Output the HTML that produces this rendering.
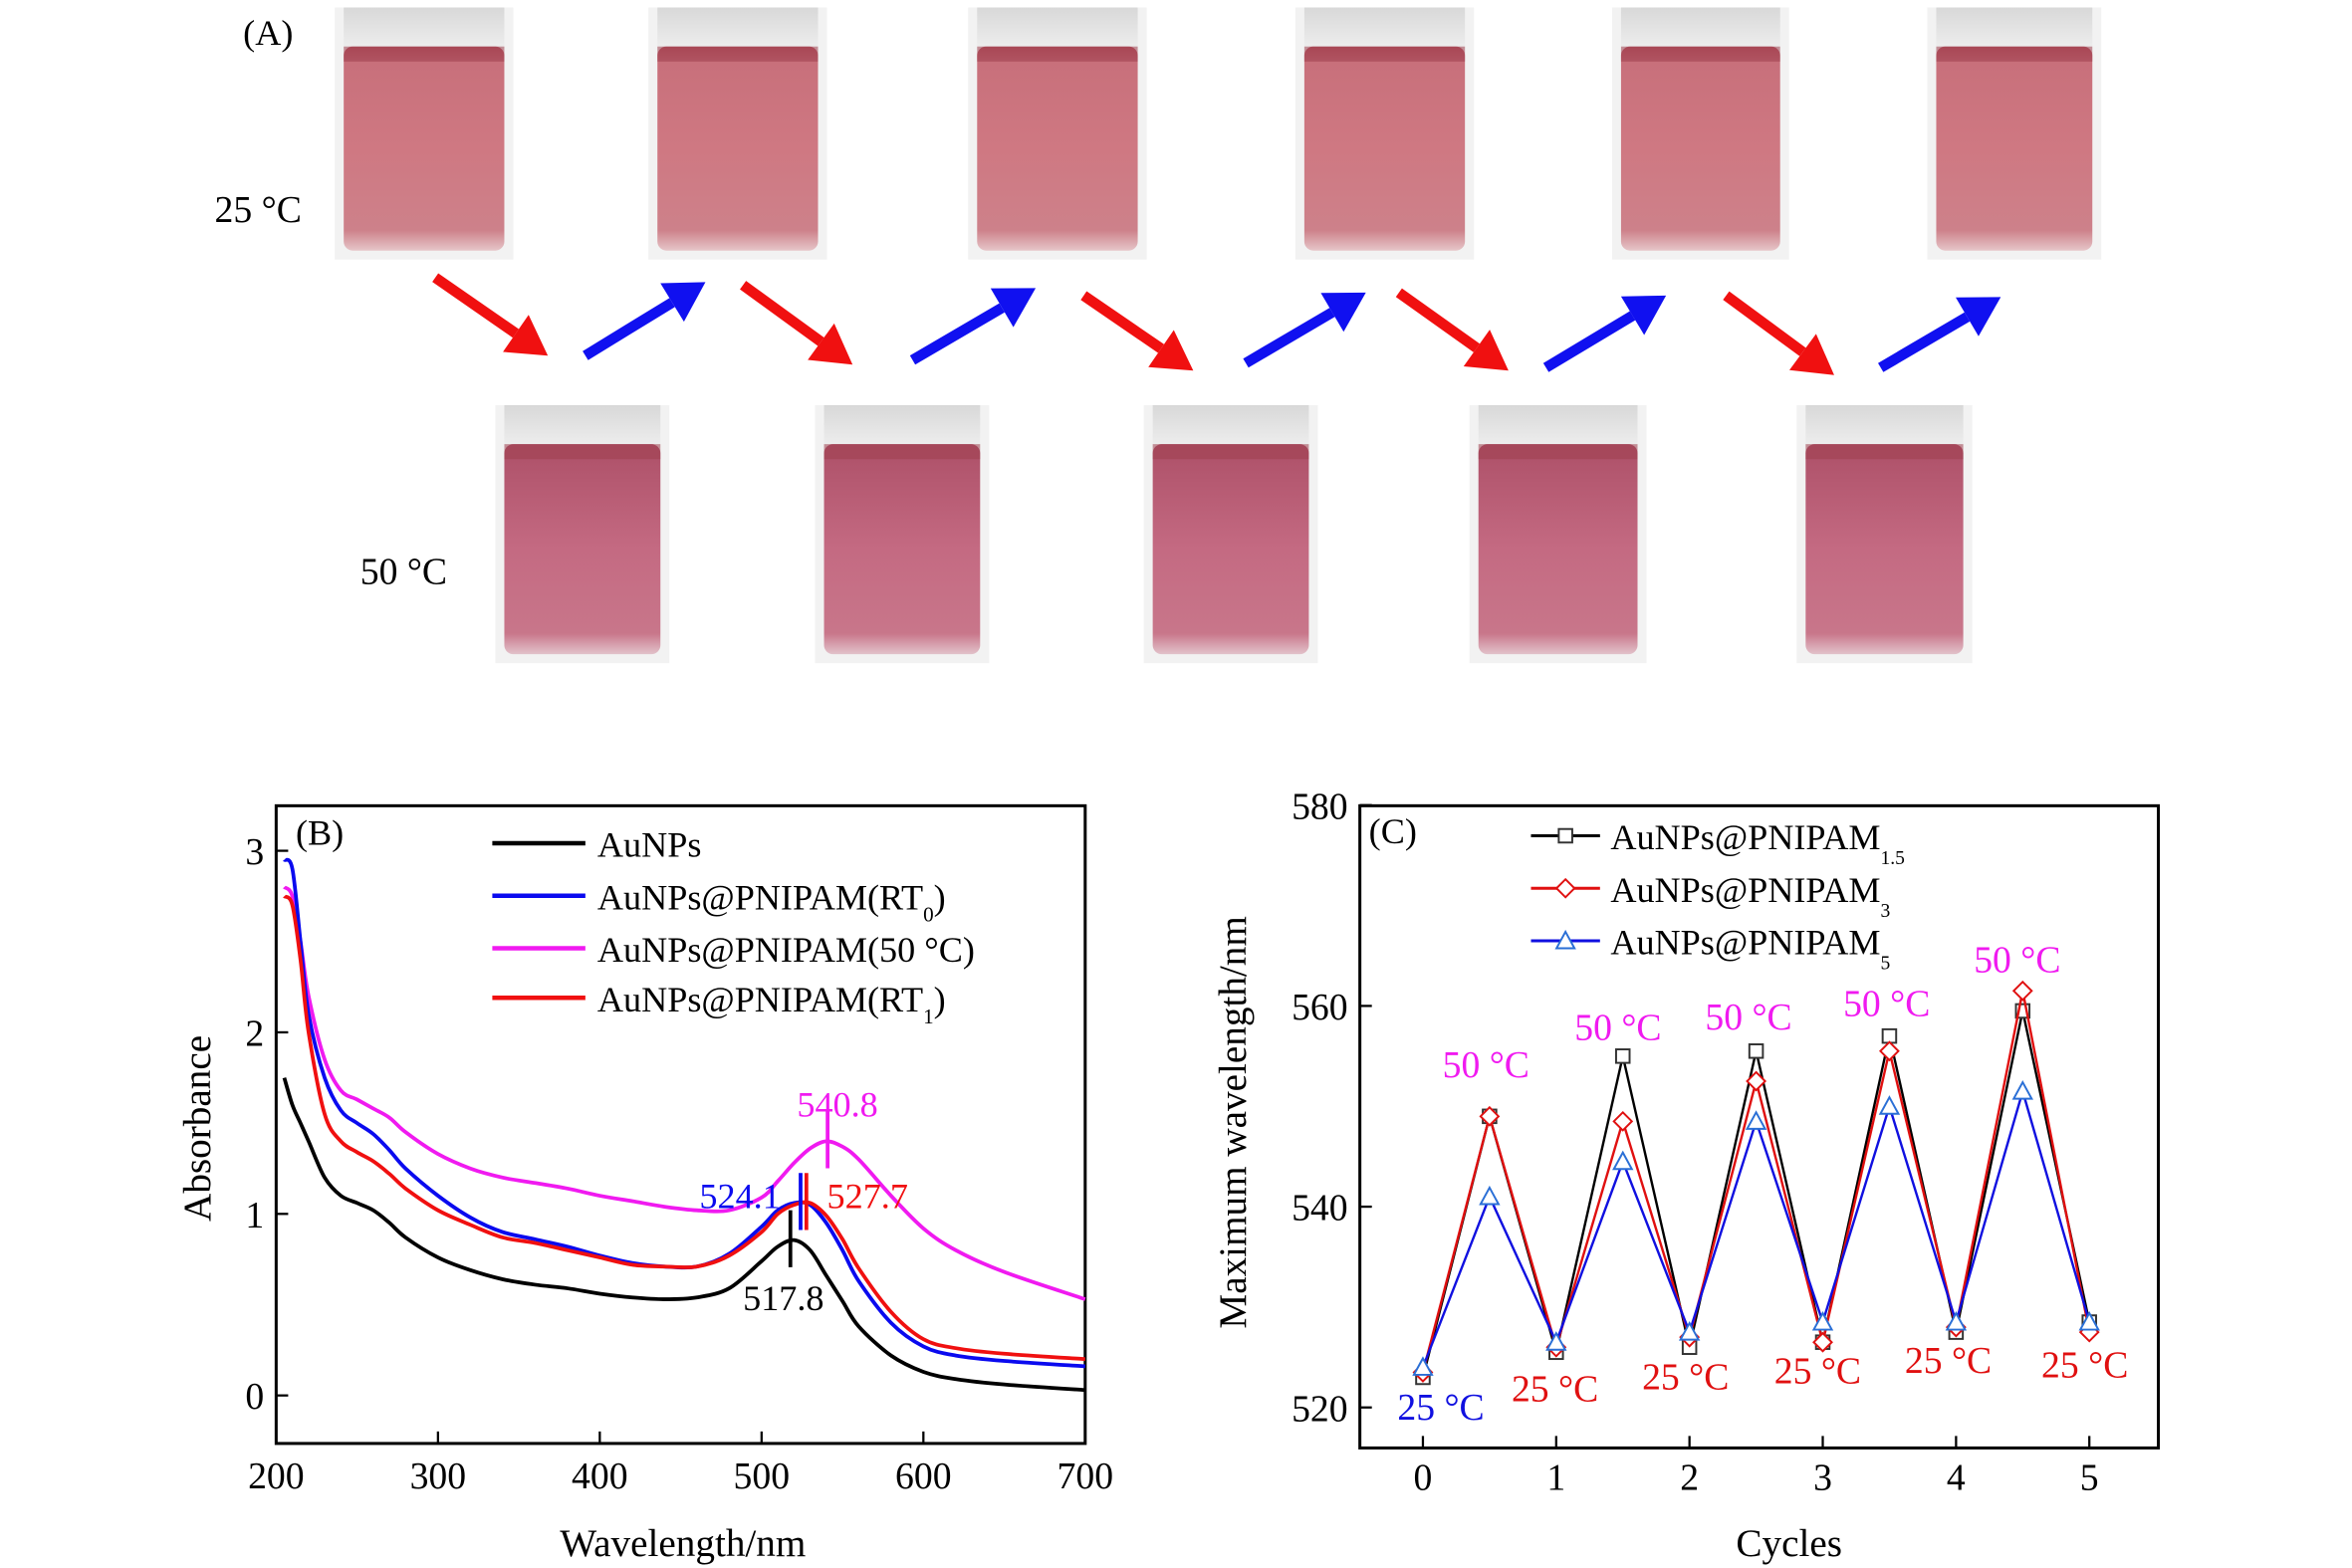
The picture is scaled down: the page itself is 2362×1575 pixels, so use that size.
<!DOCTYPE html>
<html><head><meta charset="utf-8"><style>
html,body{margin:0;padding:0;background:#fff}
svg{display:block}
text{font-family:"Liberation Serif",serif}
</style></head><body>
<svg id="fig" width="2362" height="1575" viewBox="0 0 1567 1045" preserveAspectRatio="none" xmlns="http://www.w3.org/2000/svg">
<defs>
<linearGradient id="liq" x1="0" y1="0" x2="0" y2="1">
<stop offset="0" stop-color="#b5505e"/><stop offset="0.08" stop-color="#c8707b"/><stop offset="0.5" stop-color="#cf7882"/><stop offset="0.9" stop-color="#cd818a"/><stop offset="1" stop-color="#e6c6c9"/>
</linearGradient>
<linearGradient id="liq2" x1="0" y1="0" x2="0" y2="1">
<stop offset="0" stop-color="#ad5068"/><stop offset="0.5" stop-color="#c46a82"/><stop offset="0.9" stop-color="#c8768a"/><stop offset="1" stop-color="#e2c2ca"/>
</linearGradient>
<linearGradient id="glass" x1="0" y1="0" x2="0" y2="1">
<stop offset="0" stop-color="#d8d8d8"/><stop offset="1" stop-color="#eeeeee"/>
</linearGradient>
</defs>
<g id="panelA">
<text x="162" y="30" font-size="24">(A)</text>
<text x="143" y="148" font-size="25">25 °C</text>
<text x="240" y="389" font-size="25">50 °C</text>
</g>
<g id="panelB"></g>
<g id="panelC"></g>
</svg>
<script>
// ---------- Panel B data ----------
const wavelengths=[205,210,215,220,230,240,250,260,270,280,300,320,340,360,380,400,420,440,460,480,500,510,520,530,540,550,560,580,600,620,650,700];
const absAuNPs=[1.75,1.6,1.5,1.4,1.2,1.1,1.06,1.02,0.95,0.87,0.76,0.69,0.64,0.61,0.59,0.56,0.54,0.53,0.54,0.59,0.74,0.82,0.855,0.8,0.66,0.52,0.38,0.22,0.13,0.09,0.06,0.03];
const absRT0=[2.95,2.9,2.5,2.1,1.75,1.57,1.5,1.44,1.35,1.25,1.1,0.98,0.9,0.86,0.82,0.77,0.73,0.71,0.71,0.78,0.93,1.02,1.06,1.05,0.95,0.8,0.63,0.4,0.27,0.22,0.19,0.16];
const abs50C=[2.8,2.75,2.5,2.2,1.85,1.68,1.63,1.58,1.53,1.45,1.33,1.25,1.2,1.17,1.14,1.1,1.07,1.04,1.02,1.02,1.09,1.18,1.28,1.36,1.4,1.37,1.3,1.1,0.92,0.8,0.68,0.53];
const absRT1=[2.75,2.7,2.4,2.0,1.55,1.4,1.34,1.29,1.22,1.14,1.02,0.94,0.87,0.84,0.8,0.76,0.72,0.71,0.71,0.77,0.9,1.0,1.05,1.06,0.99,0.86,0.7,0.46,0.31,0.26,0.23,0.2];
const bXTicks=[200,300,400,500,600,700];
const bYTicks=[0,1,2,3];
const peakLabels=["517.8","524.1","540.8","527.7"];
const peakPos=[517.8,524.1,540.8,527.7];
const peakAbs=[0.855,1.06,1.4,1.06];
// ---------- Panel C data ----------
const cycles=[0,0.5,1,1.5,2,2.5,3,3.5,4,4.5,5];
const lam15=[523,549,525.5,555,526,555.5,526.5,557,527.5,559.5,528.5];
const lam3=[523.5,549,526,548.5,527,552.5,526.5,555.5,528,561.5,527.5];
const lam5=[524,541,526.5,544.5,527.5,548.5,528.5,550,528.5,551.5,528.5];
const cXTicks=[0,1,2,3,4,5];
const cYTicks=[520,540,560,580];

const NS="http://www.w3.org/2000/svg";
function mk(parent,tag,attrs,txt){const e=document.createElementNS(NS,tag);for(const k in attrs)e.setAttribute(k,attrs[k]);if(txt!==undefined)e.textContent=txt;parent.appendChild(e);return e;}

// ---------- Panel A vials ----------
const A=document.getElementById('panelA');
const topVials=[[223,342],[432,551],[645,764],[863,982],[1074,1192],[1284,1400]];
const botVials=[[330,446],[543,659],[762,878],[979,1097],[1197,1314]];
function vial(x0,x1,y0,y1,grad,i,row){
  const g=mk(A,'g',{});
  
  
  mk(g,'rect',{x:x0,y:y0,width:x1-x0,height:y1-y0,fill:'#f2f2f2'});
  mk(g,'rect',{x:x0+6,y:y0,width:x1-x0-12,height:28,fill:'url(#glass)'});
  mk(g,'rect',{x:x0+6,y:y0+26,width:x1-x0-12,height:y1-y0-32,rx:6,fill:'url('+grad+')'});
  mk(g,'rect',{x:x0+6,y:y0+26,width:x1-x0-12,height:10,fill:'#9e3f4f',opacity:0.55});
}
topVials.forEach((v,i)=>vial(v[0],v[1],5,173,'#liq',i,'top'));
botVials.forEach((v,i)=>vial(v[0],v[1],270,442,'#liq2',i,'bottom'));
const arrows=[[290,185,365,237,'red'],[390,237,470,188,'blue'],[495,190,568,243,'red'],[608,240,690,192,'blue'],[722,197,795,247,'red'],[830,242,910,195,'blue'],[932,195,1005,247,'red'],[1030,245,1110,197,'blue'],[1150,197,1222,250,'red'],[1253,245,1333,198,'blue']];
arrows.forEach((a,i)=>{
  const col=a[4]=='red'?'#f01010':'#1010f0';
  const g=mk(A,'g',{});
  
  
  const dx=a[2]-a[0],dy=a[3]-a[1],L=Math.hypot(dx,dy),ux=dx/L,uy=dy/L;
  const bx=a[2]-ux*26,by=a[3]-uy*26;
  mk(g,'line',{x1:a[0],y1:a[1],x2:bx,y2:by,stroke:col,'stroke-width':7});
  mk(g,'polygon',{points:`${a[2]},${a[3]} ${bx-uy*15},${by+ux*15} ${bx+uy*15},${by-ux*15}`,fill:col});
});

// ---------- Panel B ----------
const B=document.getElementById('panelB');
const bx0=184,bx1=723,by0=537,by1=962;
const xB=w=>184+(w-200)*1.078;
const yB=a=>930-a*121;
mk(B,'rect',{x:bx0,y:by0,width:bx1-bx0,height:by1-by0,fill:'none',stroke:'#000','stroke-width':2});
bXTicks.forEach(t=>{
  const l=mk(B,'line',{x1:xB(t),y1:by1,x2:xB(t),y2:by1-8,stroke:'#000','stroke-width':1.5});
  
  const tx=mk(B,'text',{x:xB(t),y:992,'font-size':25,'text-anchor':'middle'},t);
  
});
bYTicks.forEach(t=>{
  mk(B,'line',{x1:bx0,y1:yB(t),x2:bx0+8,y2:yB(t),stroke:'#000','stroke-width':1.5});
  const tx=mk(B,'text',{x:176,y:yB(t)+9,'font-size':25,'text-anchor':'end'},t);
  
});
let t1=mk(B,'text',{x:455,y:1037,'font-size':26,'text-anchor':'middle'},'Wavelength/nm');

t1=mk(B,'text',{x:140,y:752,'font-size':26,'text-anchor':'middle',transform:'rotate(-90 140 752)'},'Absorbance');

t1=mk(B,'text',{x:197,y:563,'font-size':24},'(B)');

const seriesB=[[absAuNPs,'#000','aunps'],[absRT0,'#0a0aef','rt0'],[abs50C,'#f01af0','50c'],[absRT1,'#f01010','rt1']];
function smoothPath(xs,ys){
  let d='M'+xs[0].toFixed(1)+','+ys[0].toFixed(1);
  for(let i=0;i<xs.length-1;i++){
    const x0=xs[i-1]??xs[i],y0=ys[i-1]??ys[i],x3=xs[i+2]??xs[i+1],y3=ys[i+2]??ys[i+1];
    const c1x=xs[i]+(xs[i+1]-x0)/6,c1y=ys[i]+(ys[i+1]-y0)/6;
    const c2x=xs[i+1]-(x3-xs[i])/6,c2y=ys[i+1]-(y3-ys[i])/6;
    d+=` C${c1x.toFixed(1)},${c1y.toFixed(1)} ${c2x.toFixed(1)},${c2y.toFixed(1)} ${xs[i+1].toFixed(1)},${ys[i+1].toFixed(1)}`;
  }
  return d;
}
[seriesB[2],seriesB[0],seriesB[1],seriesB[3]].forEach(s=>{
  const d=smoothPath(wavelengths.map(xB),s[0].map(yB));
  const p=mk(B,'path',{d:d,fill:'none',stroke:s[1],'stroke-width':2.5,'stroke-linejoin':'round'});
  
});
const peakCols=['#000','#0a0aef','#f01af0','#f01010'];
const peakLx=[522,493,558,578];const peakLy=[873,805,744,805];
peakPos.forEach((p,i)=>{
  const m=mk(B,'line',{x1:xB(p),y1:yB(peakAbs[i])-20,x2:xB(p),y2:yB(peakAbs[i])+18,stroke:peakCols[i],'stroke-width':2.5});
  
  const tx=mk(B,'text',{x:peakLx[i],y:peakLy[i],'font-size':24,'text-anchor':'middle',fill:peakCols[i]},peakLabels[i]);
  
});
const legB=[['AuNPs',''],['AuNPs@PNIPAM(RT','0',')'],['AuNPs@PNIPAM(50 °C)',''],['AuNPs@PNIPAM(RT','1',')']];
const legBy=[562,597,632,665];
legB.forEach((l,i)=>{
  const g=mk(B,'g',{});
  
  mk(g,'line',{x1:328,y1:legBy[i],x2:390,y2:legBy[i],stroke:seriesB[i][1],'stroke-width':3});
  const tx=mk(g,'text',{x:398,y:legBy[i]+9,'font-size':24},l[0]);
  if(l[1]){mk(tx,'tspan',{'font-size':14,dy:8},l[1]);mk(tx,'tspan',{dy:-8},l[2]);}
});

// ---------- Panel C ----------
const C=document.getElementById('panelC');
const cx0=906,cx1=1438,cy0=537,cy1=965;
const xC=c=>948+c*88.8;
const yC=v=>938-(v-520)*6.69;
mk(C,'rect',{x:cx0,y:cy0,width:cx1-cx0,height:cy1-cy0,fill:'none',stroke:'#000','stroke-width':2});
cXTicks.forEach(t=>{
  mk(C,'line',{x1:xC(t),y1:cy1,x2:xC(t),y2:cy1-8,stroke:'#000','stroke-width':1.5});
  const tx=mk(C,'text',{x:xC(t),y:993,'font-size':25,'text-anchor':'middle'},t);
  
});
cYTicks.forEach(t=>{
  mk(C,'line',{x1:cx0,y1:yC(t),x2:cx0+8,y2:yC(t),stroke:'#000','stroke-width':1.5});
  const tx=mk(C,'text',{x:898,y:yC(t)+9,'font-size':25,'text-anchor':'end'},t);
  
});
t1=mk(C,'text',{x:1192,y:1037,'font-size':26,'text-anchor':'middle'},'Cycles');

t1=mk(C,'text',{x:830,y:748,'font-size':26,'text-anchor':'middle',transform:'rotate(-90 830 748)'},'Maximum wavelength/nm');

t1=mk(C,'text',{x:912,y:562,'font-size':24},'(C)');

function marker(g,shape,x,y,col){
  if(shape=='sq')return mk(g,'rect',{x:x-4.5,y:y-4.5,width:9,height:9,fill:'#fff',stroke:'#333','stroke-width':1.3});
  if(shape=='di')return mk(g,'polygon',{points:`${x},${y-6} ${x+6},${y} ${x},${y+6} ${x-6},${y}`,fill:'#fff',stroke:col,'stroke-width':1.3});
  return mk(g,'polygon',{points:`${x},${y-6} ${x+6},${y+5} ${x-6},${y+5}`,fill:'#fff',stroke:'#2a6fd6','stroke-width':1.3});
}
const seriesC=[[lam15,'#000','sq','pnipam-1-5'],[lam3,'#e01010','di','pnipam-3'],[lam5,'#1010e0','tr','pnipam-5']];
seriesC.forEach(s=>{
  const g=mk(C,'g',{});
  
  const pts=cycles.map((c,i)=>xC(c).toFixed(1)+','+yC(s[0][i]).toFixed(1)).join(' ');
  mk(g,'polyline',{points:pts,fill:'none',stroke:s[1],'stroke-width':1.6});
  cycles.forEach((c,i)=>{
    const m=marker(g,s[2],xC(c),yC(s[0][i]),s[1]);
    
  });
});
const hotLabels=[[990,718],[1078,693],[1165,686],[1257,677],[1344,648]];
hotLabels.forEach((p,i)=>{
  const tx=mk(C,'text',{x:p[0],y:p[1],'font-size':25,'text-anchor':'middle',fill:'#f01af0'},'50 °C');
  
});
const coldLabels=[[960,946,'#1010e0'],[1036,934,'#e01010'],[1123,926,'#e01010'],[1211,922,'#e01010'],[1298,915,'#e01010'],[1389,918,'#e01010']];
coldLabels.forEach((p,i)=>{
  const tx=mk(C,'text',{x:p[0],y:p[1],'font-size':25,'text-anchor':'middle',fill:p[2]},'25 °C');
  
});
const legC=[['AuNPs@PNIPAM','1.5'],['AuNPs@PNIPAM','3'],['AuNPs@PNIPAM','5']];
const legCy=[557,592,627];
legC.forEach((l,i)=>{
  const g=mk(C,'g',{});
  
  mk(g,'line',{x1:1020,y1:legCy[i],x2:1066,y2:legCy[i],stroke:seriesC[i][1],'stroke-width':2});
  marker(g,seriesC[i][2],1043,legCy[i],seriesC[i][1]);
  const tx=mk(g,'text',{x:1073,y:legCy[i]+9,'font-size':24},l[0]);
  mk(tx,'tspan',{'font-size':13,dy:10},l[1]);
});
</script>
</body></html>
